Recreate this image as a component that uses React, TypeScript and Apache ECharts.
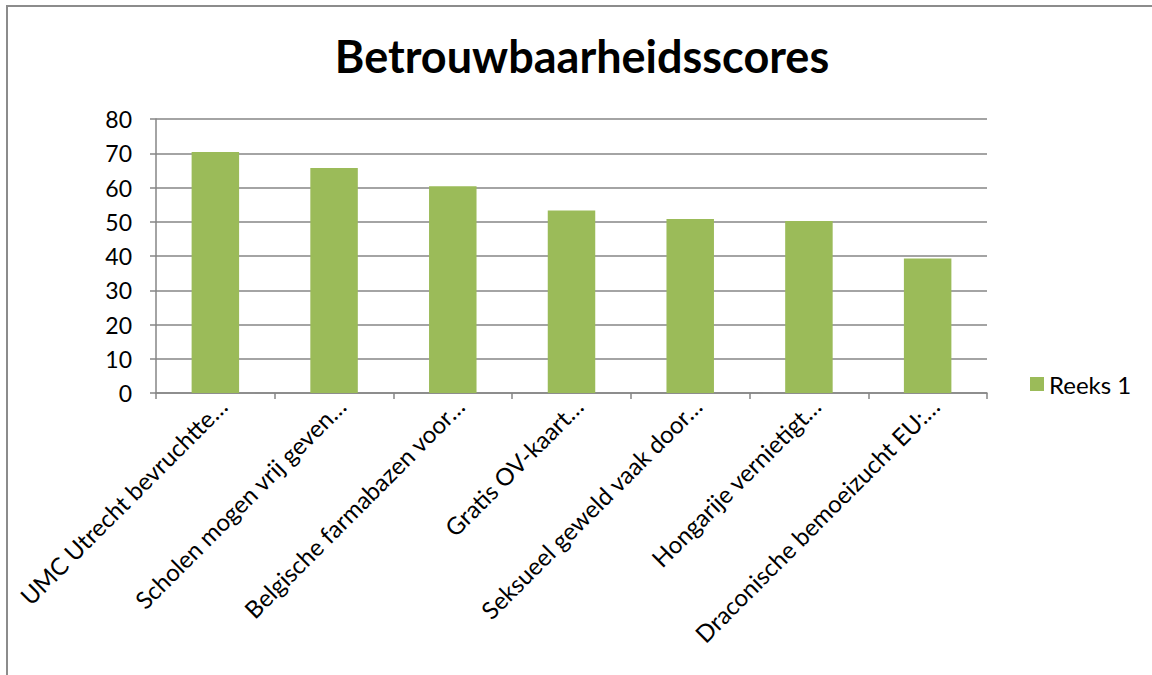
import React, { useEffect, useRef } from "react";
import * as echarts from "echarts";

const categories: string[] = [
  "UMC Utrecht bevruchtte…",
  "Scholen mogen vrij geven…",
  "Belgische farmabazen voor…",
  "Gratis OV-kaart…",
  "Seksueel geweld vaak door…",
  "Hongarije vernietigt…",
  "Draconische bemoeizucht EU:…",
];
const reeks1: number[] = [70.4, 65.7, 60.4, 53.3, 50.8, 50.2, 39.3];
const seriesName = "Reeks 1";
const titleText = "Betrouwbaarheidsscores";

const FONT = "Lato, 'Noto Sans', sans-serif";
const GRID = "#868686";

export default function App() {
  const ref = useRef<HTMLDivElement>(null);
  useEffect(() => {
    if (!ref.current) return;
    const chart = echarts.init(ref.current, undefined, { renderer: "svg" });
    chart.setOption({
      animation: false,
      backgroundColor: "#ffffff",
      textStyle: { fontFamily: FONT },
      title: {
        text: titleText,
        left: 577,
        textAlign: "center",
        top: 28,
        textStyle: { fontFamily: FONT, fontWeight: "bold", fontSize: 45, color: "#000" },
      },
      legend: {
        orient: "vertical",
        left: 1030,
        top: 372,
        padding: 0,
        itemWidth: 14,
        itemHeight: 14,
        itemGap: 6,
        icon: "rect",
        textStyle: { fontFamily: FONT, fontSize: 24, color: "#000" },
        data: [seriesName],
      },
      grid: { left: 156, right: 165, top: 119, bottom: 282, containLabel: false },
      xAxis: {
        type: "category",
        data: categories,
        axisLine: { lineStyle: { color: GRID, width: 1.5 } },
        axisTick: { show: true, length: 6, lineStyle: { color: GRID, width: 1.5 } },
        axisLabel: {
          rotate: 45,
          interval: 0,
          margin: 16,
          padding: [0, -10, 0, 0],
          fontFamily: FONT,
          fontSize: 24,
          color: "#000",
        },
      },
      yAxis: {
        type: "value",
        min: 0,
        max: 80,
        interval: 10,
        axisLine: { show: true, lineStyle: { color: GRID, width: 1.5 } },
        axisTick: { show: true, length: 6, lineStyle: { color: GRID, width: 1.5 } },
        axisLabel: { margin: 24, fontFamily: FONT, fontSize: 23, color: "#000" },
        splitLine: { show: true, lineStyle: { color: GRID, width: 1.5 } },
      },
      series: [
        {
          name: seriesName,
          type: "bar",
          data: reeks1,
          barWidth: "40%",
          itemStyle: { color: "#9BBB59" },
        },
      ],
      graphic: [
        {
          type: "rect",
          shape: { x: 7, y: 6, width: 1170, height: 690 },
          style: { fill: "none", stroke: "#8c8c8c", lineWidth: 2 },
          silent: true,
        },
      ],
    });
    return () => chart.dispose();
  }, []);
  return (
    <div
      ref={ref}
      style={{ position: "absolute", left: 0, top: 0, width: 1152, height: 675 }}
    />
  );
}
